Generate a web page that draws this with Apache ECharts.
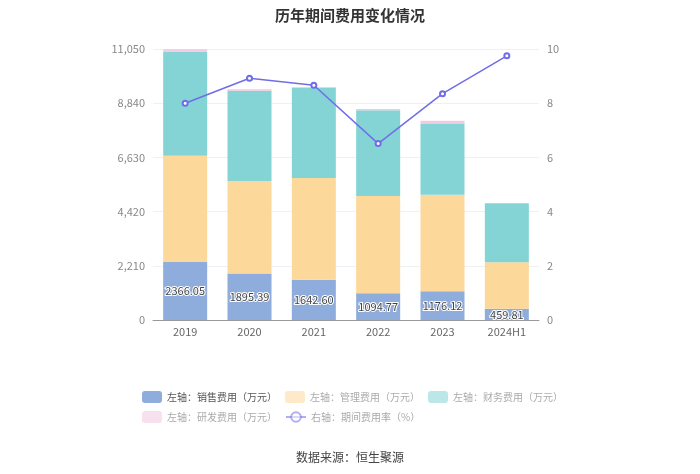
<!DOCTYPE html>
<html><head><meta charset="utf-8">
<script src="https://cdn.jsdelivr.net/npm/echarts@6/dist/echarts.min.js"></script>
<style>html,body{margin:0;padding:0;background:#fff;}#c{width:700px;height:474px;}</style>
</head><body><div id="c"></div>
<script>
var categories = ['2019','2020','2021','2022','2023','2024H1'];
var salesExp = [2366.05, 1895.39, 1642.60, 1094.77, 1176.12, 459.81];
var mgmtExp = [4333, 3772, 4147, 3960, 3934, 1891];
var finExp = [4240, 3682, 3683, 3494, 2881, 2406];
var rdExp = [97, 56, 25, 50, 136, 0];
var rate = [8.0, 8.92, 8.66, 6.51, 8.35, 9.75];
var leftTicks = {min: 0, max: 11050, interval: 2210};
var rightTicks = {min: 0, max: 10, interval: 2};

var chart = echarts.init(document.getElementById('c'));
var font = '"Noto Sans CJK SC","Noto Sans",sans-serif';
var legendBase = {itemWidth: 20, itemHeight: 12, itemGap: 8, width: 500, padding: 0,
  textStyle: {fontSize: 10, color: '#aaa'}};
var faded = {opacity: 0.55};
chart.setOption({
  animation: false,
  textStyle: {fontFamily: font},
  title: {text: '历年期间费用变化情况', left: 'center', top: 3, textStyle: {fontSize: 15, fontWeight: 'bold', color: '#333', fontFamily: font}},
  grid: {left: 153, right: 161, top: 49, bottom: 154},
  legend: [
    Object.assign({}, legendBase, {left: 142, top: 391,
      data: [{name: '左轴：销售费用（万元）', textStyle: {color: '#555'}},
             {name: '左轴：管理费用（万元）', itemStyle: faded},
             {name: '左轴：财务费用（万元）', itemStyle: faded}]}),
    Object.assign({}, legendBase, {left: 142, top: 411,
      data: [{name: '左轴：研发费用（万元）', itemStyle: faded},
             {name: '右轴：期间费用率（%）', itemStyle: faded, lineStyle: {opacity: 0.55}}]})
  ],
  xAxis: {
    type: 'category', data: categories,
    axisLine: {lineStyle: {color: '#999'}},
    axisTick: {alignWithLabel: true, lineStyle: {color: '#999'}},
    axisLabel: {color: '#666', fontSize: 11, margin: 6}
  },
  yAxis: [
    {type: 'value', min: leftTicks.min, max: leftTicks.max, interval: leftTicks.interval,
     axisLabel: {color: '#888', fontSize: 11, formatter: function(v){return v.toLocaleString('en-US');}},
     splitLine: {lineStyle: {color: '#eef0f5'}}, axisLine: {show: false}, axisTick: {show: false}},
    {type: 'value', min: rightTicks.min, max: rightTicks.max, interval: rightTicks.interval,
     axisLabel: {color: '#888', fontSize: 11},
     splitLine: {show: false}, axisLine: {show: false}, axisTick: {show: false}}
  ],
  series: [
    {name: '左轴：销售费用（万元）', type: 'bar', stack: 'a', data: salesExp, barWidth: 44,
     itemStyle: {color: '#8eacdc'},
     label: {show: true, position: 'inside', color: '#444', fontSize: 11, textBorderColor: '#fff', textBorderWidth: 2,
       formatter: function(p){return p.value.toFixed(2);}}},
    {name: '左轴：管理费用（万元）', type: 'bar', stack: 'a', data: mgmtExp, itemStyle: {color: '#fdd89b'}},
    {name: '左轴：财务费用（万元）', type: 'bar', stack: 'a', data: finExp, itemStyle: {color: '#84d4d6'}},
    {name: '左轴：研发费用（万元）', type: 'bar', stack: 'a', data: rdExp, itemStyle: {color: '#f2c9e2'}},
    {name: '右轴：期间费用率（%）', type: 'line', yAxisIndex: 1, data: rate,
     symbol: 'emptyCircle', symbolSize: 5, lineStyle: {color: '#6f6ee8', width: 1.5},
     itemStyle: {color: '#6f6ee8'}}
  ],
  graphic: [{type: 'text', left: 'center', top: 451, style: {text: '数据来源：恒生聚源', fill: '#444', font: '12px ' + font}}]
});
</script></body></html>
